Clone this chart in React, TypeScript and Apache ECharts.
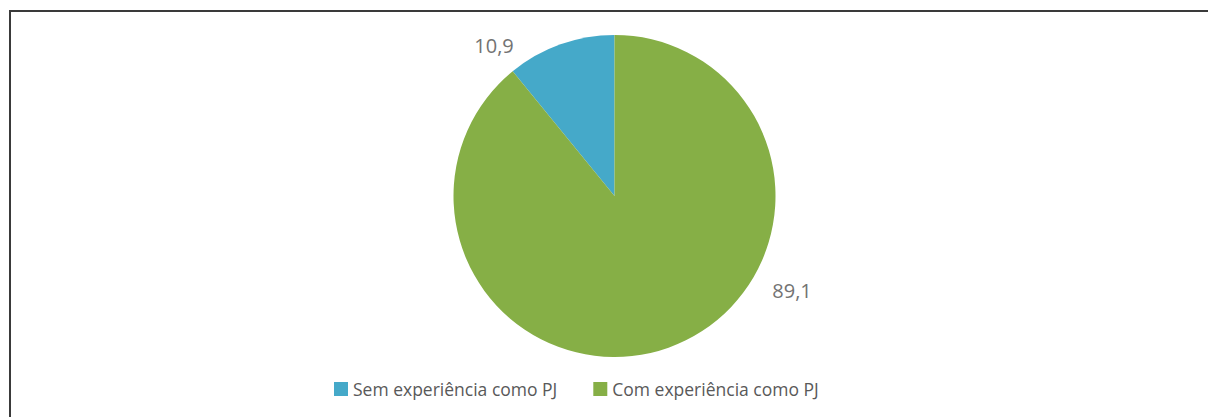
import React, { useEffect, useRef } from "react";
import * as echarts from "echarts";

const categories = ["Sem experiência como PJ", "Com experiência como PJ"];
const values = [10.9, 89.1];
const colors = ["#45A9C9", "#86AF46"];
const labelPositions = [
  [494, 45],
  [792, 290],
];

export default function App() {
  const ref = useRef<HTMLDivElement>(null);
  useEffect(() => {
    if (!ref.current) return;
    const chart = echarts.init(ref.current, null, { renderer: "svg" });
    chart.setOption({
      animation: false,
      backgroundColor: "#ffffff",
      textStyle: { fontFamily: "'Open Sans', sans-serif" },
      graphic: [
        { type: "line", shape: { x1: 9, y1: 11, x2: 1208, y2: 11 }, style: { stroke: "#3a3a3a", lineWidth: 2 } },
        { type: "line", shape: { x1: 10, y1: 10, x2: 10, y2: 417 }, style: { stroke: "#3a3a3a", lineWidth: 2 } },
      ],
      legend: {
        data: categories,
        left: 334,
        top: 380,
        padding: 0,
        itemWidth: 14,
        itemHeight: 14,
        itemGap: 36,
        icon: "rect",
        textStyle: { fontSize: 17.5, color: "#595959", fontFamily: "'Open Sans', sans-serif" },
      },
      series: [
        {
          type: "pie",
          center: [614.5, 196],
          radius: 161,
          startAngle: 90,
          clockwise: false,
          data: categories.map((name, i) => ({
            name,
            value: values[i],
            itemStyle: { color: colors[i] },
          })),
          label: {
            show: true,
            position: "outside",
            formatter: (p: any) => String(p.value).replace(".", ","),
            fontSize: 20,
            color: "#737373",
            fontFamily: "'Open Sans', sans-serif",
          },
          labelLine: { show: false },
          labelLayout: (params: any) => {
            const pos = labelPositions[params.dataIndex];
            return { x: pos[0], y: pos[1], align: "center", verticalAlign: "middle" };
          },
          emphasis: { disabled: true },
        },
      ],
    });
    return () => chart.dispose();
  }, []);
  return (
    <div
      ref={ref}
      style={{ position: "fixed", left: 0, top: 0, width: 1208, height: 417 }}
    />
  );
}
